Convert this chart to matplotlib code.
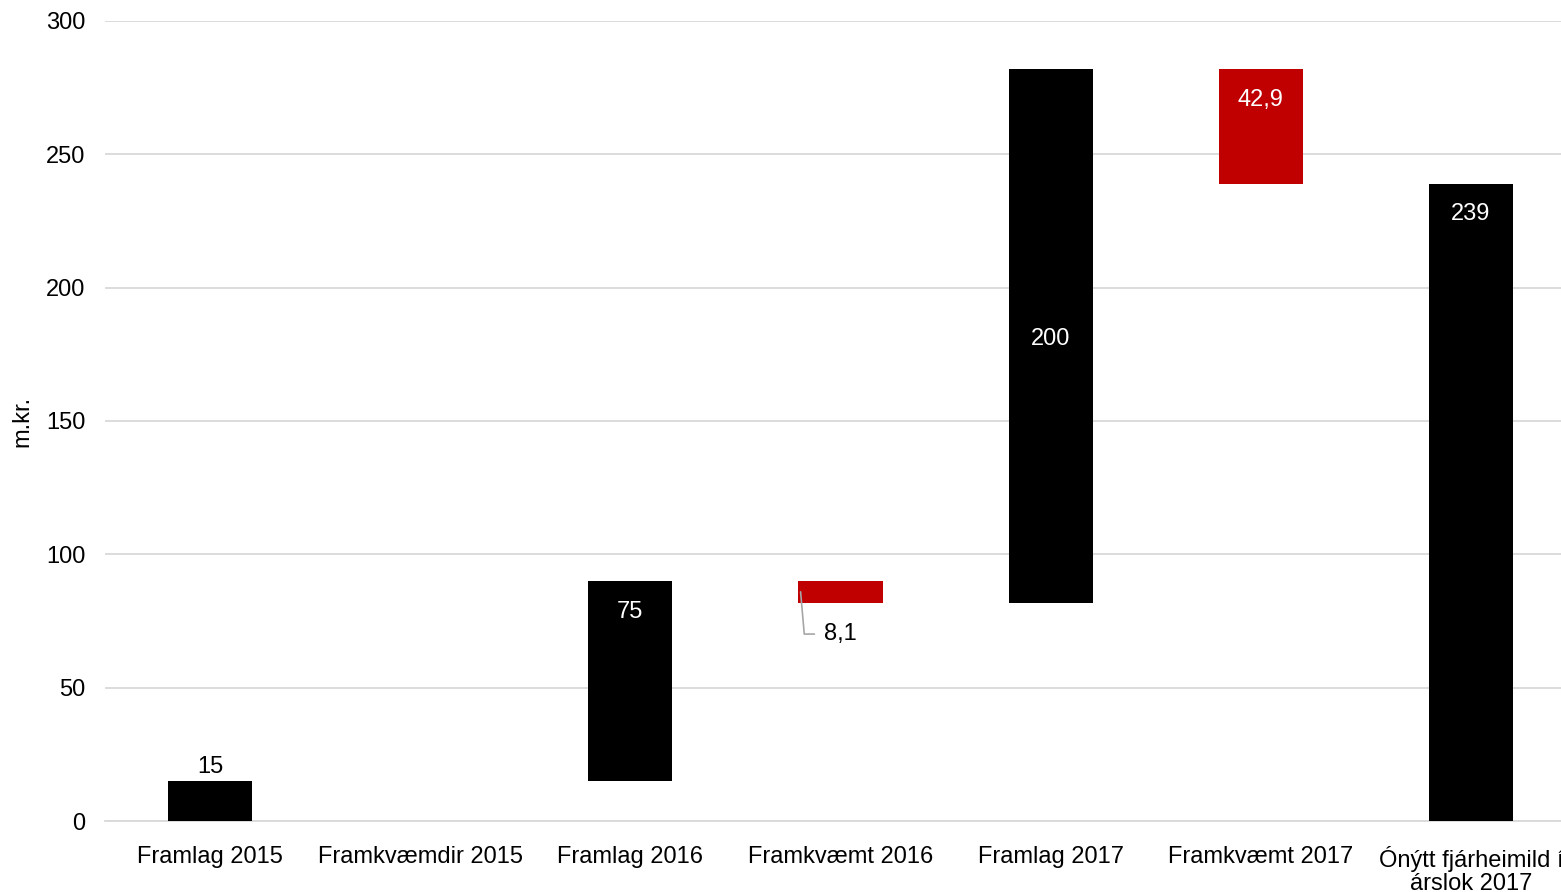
import matplotlib
matplotlib.use('Agg')
from matplotlib import pyplot as plt
import numpy as np

plt.rcParams['font.family'] = ['Liberation Sans', 'DejaVu Sans']

# Waterfall data (m.kr.)
categories = ['Framlag 2015', 'Framkvæmdir 2015', 'Framlag 2016', 'Framkvæmt 2016',
              'Framlag 2017', 'Framkvæmt 2017', 'Ónýtt fjárheimild í\nárslok 2017']
changes = [15, 0, 75, -8.1, 200, -42.9, 239]
is_total = [False, False, False, False, False, False, True]
value_labels = ['15', '', '75', '8,1', '200', '42,9', '239']

BLACK = '#000000'
RED = '#c00000'
GRID = '#d9d9d9'
FS = 17

# Compute bar bottoms / heights
bottoms = []
heights = []
colors = []
running = 0.0
for change, total in zip(changes, is_total):
    if total:
        bottoms.append(0)
        heights.append(change)
        colors.append(BLACK)
        running = change
    elif change >= 0:
        bottoms.append(running)
        heights.append(change)
        colors.append(BLACK)
        running += change
    else:
        running += change
        bottoms.append(running)
        heights.append(-change)
        colors.append(RED)

fig = plt.figure(figsize=(15.61, 8.92), dpi=100)
ax = fig.add_axes([105 / 1561, 71 / 892, 1471 / 1561, 800 / 892])

x = np.arange(len(categories))
width = 0.4
ax.bar(x, heights, bottom=bottoms, width=width, color=colors, zorder=3)

ax.set_xlim(-0.5, len(categories) - 0.5)
ax.set_ylim(0, 300)
ax.set_yticks(np.arange(0, 301, 50))
ax.yaxis.grid(True, color=GRID, linewidth=1.3, zorder=0)
ax.set_axisbelow(True)
for side in ['top', 'right', 'left']:
    ax.spines[side].set_visible(False)
ax.spines['bottom'].set_color(GRID)
ax.spines['bottom'].set_linewidth(1.3)
ax.tick_params(axis='both', length=0, labelsize=FS, colors='#000000')
ax.tick_params(axis='y', pad=14)
ax.tick_params(axis='x', pad=18)
ax.set_xticks(x)
ax.set_xticklabels(categories, linespacing=1.05)
fig.text(22 / 1561, (892 - 421) / 892, 'm.kr.', rotation=90, ha='center', va='center',
         fontsize=FS)

# Value labels
for i, lbl in enumerate(value_labels):
    if not lbl:
        continue
    b, h = bottoms[i], heights[i]
    if h < 20 and colors[i] == BLACK:
        ax.text(x[i], b + h + 1.0, lbl, ha='center', va='bottom', fontsize=FS, color=BLACK)
    elif h < 20:
        ax.annotate(lbl, xy=(x[i] - width / 2 + 0.01, b + h / 2),
                    xytext=(x[i], b - 11.8), ha='center', va='center',
                    fontsize=FS, color=BLACK,
                    arrowprops=dict(arrowstyle='-', color='#a6a6a6', lw=1.2,
                                    shrinkA=5, shrinkB=0,
                                    connectionstyle='angle,angleA=0,angleB=95,rad=0'))
    elif i == 4:
        ax.text(x[i], b + h / 2 - 1.0, lbl, ha='center', va='center', fontsize=FS, color='white')
    else:
        ax.text(x[i], b + h - 11.5, lbl, ha='center', va='center', fontsize=FS, color='white')

fig.savefig('out.png', dpi=100)
